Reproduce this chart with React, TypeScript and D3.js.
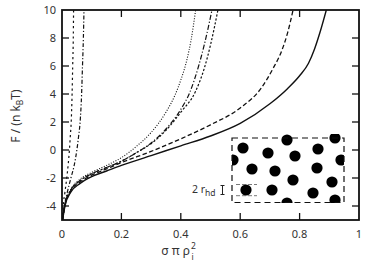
import React from "react";
import * as d3 from "d3";

// ---- data ----
const xTicks = [0, 0.2, 0.4, 0.6, 0.8, 1];
const xTickLabels = ["0", "0.2", "0.4", "0.6", "0.8", "1"];
const yTicks = [-4, -2, 0, 2, 4, 6, 8, 10];
const yTickLabels = ["-4", "-2", "0", "2", "4", "6", "8", "10"];

const solidEta = [0.002, 0.01, 0.03, 0.06, 0.1, 0.15, 0.2, 0.3, 0.4, 0.5, 0.6, 0.7, 0.76, 0.8, 0.83, 0.85, 0.87, 0.89];
const solidF = [-5, -4.0, -3.0, -2.4, -1.9, -1.5, -1.1, -0.4, 0.3, 1.0, 1.9, 3.3, 4.4, 5.3, 6.2, 7.2, 8.5, 10];

const dashEta = [0.002, 0.01, 0.03, 0.06, 0.1, 0.15, 0.2, 0.3, 0.4, 0.5, 0.6, 0.67, 0.71, 0.74, 0.76, 0.778];
const dashF = [-5, -3.9, -2.9, -2.3, -1.8, -1.35, -0.9, -0.1, 0.8, 1.8, 3.0, 4.4, 5.8, 7.1, 8.4, 10];

const dotEta = [0.002, 0.01, 0.03, 0.06, 0.1, 0.15, 0.2, 0.25, 0.3, 0.35, 0.38, 0.4, 0.42, 0.435, 0.45];
const dotF = [-5, -3.9, -2.8, -2.1, -1.6, -1.1, -0.55, 0.25, 1.25, 2.7, 3.9, 5.0, 6.4, 7.9, 10];

const dashDotEta = [0.002, 0.01, 0.03, 0.06, 0.1, 0.15, 0.2, 0.25, 0.3, 0.35, 0.4, 0.43, 0.46, 0.48, 0.505];
const dashDotF = [-5, -3.9, -2.85, -2.2, -1.7, -1.25, -0.8, -0.2, 0.5, 1.5, 2.9, 4.1, 6.0, 7.6, 10];

const shortDashEta = [0.002, 0.01, 0.03, 0.06, 0.1, 0.15, 0.2, 0.25, 0.3, 0.35, 0.4, 0.45, 0.48, 0.5, 0.525];
const shortDashF = [-5, -3.9, -2.85, -2.2, -1.7, -1.25, -0.8, -0.2, 0.45, 1.4, 2.7, 4.2, 5.9, 7.5, 10];

const steepAEta = [0.001, 0.004, 0.01, 0.016, 0.021, 0.025, 0.028, 0.031, 0.034, 0.036, 0.038, 0.039];
const steepAF = [-5, -4, -3, -2, -1, 0, 1, 2, 4, 6, 8, 10];

const steepBEta = [0.001, 0.008, 0.018, 0.03, 0.042, 0.05, 0.056, 0.061, 0.066, 0.069, 0.072, 0.074];
const steepBF = [-5, -4, -3, -2, -1, 0, 1, 2, 4, 6, 8, 10];

// inset particle centres (pixel positions inside the inset sketch)
const discX = [243, 268, 287, 295, 318, 335, 233, 341, 252, 275, 317, 293, 332, 246, 272, 313, 287, 335];
const discY = [148, 153, 140, 156, 149, 138, 160, 160, 169, 171, 168, 180, 182, 190, 190, 193, 203, 200];

const W = 374;
const H = 266;
const M = { left: 62, right: 359, top: 10, bottom: 220 };

export default function App() {
  const x = d3.scaleLinear().domain([0, 1]).range([M.left, M.right]);
  const y = d3.scaleLinear().domain([-5, 10]).range([M.bottom, M.top]);

  const mk = (xs: number[], ys: number[]) =>
    d3
      .line<number>()
      .x((_, i) => x(xs[i]))
      .y((_, i) => y(ys[i]))
      .curve(d3.curveMonotoneX)(xs) as string;

  const series = [
    { xs: solidEta, ys: solidF, dash: "none", w: 1.4 },
    { xs: dashEta, ys: dashF, dash: "4.5 2.5", w: 1.3 },
    { xs: dotEta, ys: dotF, dash: "1 1.6", w: 1.1 },
    { xs: dashDotEta, ys: dashDotF, dash: "5 2 1.2 2", w: 1.2 },
    { xs: shortDashEta, ys: shortDashF, dash: "2.2 1.8", w: 1.2 },
    { xs: steepAEta, ys: steepAF, dash: "2.2 3", w: 1.2 },
    { xs: steepBEta, ys: steepBF, dash: "4 2 1.2 2", w: 1.2 },
  ];

  const txt = "#333";
  const font = "'Noto Sans', 'Open Sans', sans-serif";

  return (
    <svg
      width={W}
      height={H}
      style={{ position: "absolute", left: 0, top: 0, background: "#fff" }}
      fontFamily={font}
    >
      <defs>
        <clipPath id="plotclip">
          <rect x={M.left} y={M.top} width={M.right - M.left} height={M.bottom - M.top} />
        </clipPath>
        <clipPath id="insetclip">
          <rect x={232} y={134} width={112} height={69} />
        </clipPath>
      </defs>

      {/* curves */}
      <g clipPath="url(#plotclip)" fill="none" stroke="#111">
        {series.map((s, i) => (
          <path key={i} d={mk(s.xs, s.ys)} strokeWidth={s.w} strokeDasharray={s.dash} />
        ))}
      </g>

      {/* inset */}
      <g>
        <g clipPath="url(#insetclip)">
          {discX.map((cx, i) => (
            <circle key={i} cx={cx} cy={discY[i]} r={5.6} fill="#000" />
          ))}
        </g>
        <rect x={232} y={138} width={112} height={64.5} fill="none" stroke="#111" strokeWidth={1.2} strokeDasharray="6 4" />
        <line x1={236} x2={257} y1={184.5} y2={184.5} stroke="#555" strokeWidth={0.8} strokeDasharray="4 2" />
        <line x1={236} x2={257} y1={195.7} y2={195.7} stroke="#555" strokeWidth={0.8} strokeDasharray="4 2" />
        <line x1={222.5} x2={222.5} y1={185.5} y2={194.5} stroke="#222" strokeWidth={1} />
        <line x1={220.5} x2={224.5} y1={185.5} y2={185.5} stroke="#222" strokeWidth={1} />
        <line x1={220.5} x2={224.5} y1={194.5} y2={194.5} stroke="#222" strokeWidth={1} />
        <text x={192} y={193} fontSize={10.5} fill={txt}>
          2 r<tspan fontSize={8.5} dy={2.5}>hd</tspan>
        </text>
      </g>

      {/* frame */}
      <rect
        x={M.left}
        y={M.top}
        width={M.right - M.left}
        height={M.bottom - M.top}
        fill="none"
        stroke="#111"
        strokeWidth={1.8}
      />

      {/* ticks */}
      <g stroke="#111" strokeWidth={1.3}>
        {xTicks.slice(1, -1).map((t) => (
          <g key={"x" + t}>
            <line x1={x(t)} x2={x(t)} y1={M.bottom} y2={M.bottom - 7} />
            <line x1={x(t)} x2={x(t)} y1={M.top} y2={M.top + 7} />
          </g>
        ))}
        {yTicks.slice(0, -1).map((t) => (
          <g key={"y" + t}>
            <line x1={M.left} x2={M.left + 7} y1={y(t)} y2={y(t)} />
            <line x1={M.right} x2={M.right - 7} y1={y(t)} y2={y(t)} />
          </g>
        ))}
      </g>

      {/* tick labels */}
      <g fontSize={11} fill={txt}>
        {xTicks.map((t, i) => (
          <text key={"xl" + t} x={x(t)} y={238} textAnchor="middle">
            {xTickLabels[i]}
          </text>
        ))}
        {yTicks.map((t, i) => (
          <text key={"yl" + t} x={M.left - 6} y={y(t) + 4} textAnchor="end">
            {yTickLabels[i]}
          </text>
        ))}
      </g>

      {/* axis titles */}
      <text x={190} y={255} fontSize={12} fill={txt} textAnchor="end">
        σ π ρ
      </text>
      <text x={191} y={249} fontSize={8.5} fill={txt}>
        2
      </text>
      <text x={191.5} y={260} fontSize={8.5} fill={txt}>
        i
      </text>
      <text
        transform="translate(20,116) rotate(-90)"
        fontSize={12}
        fill={txt}
        textAnchor="middle"
      >
        F / (n k<tspan fontSize={8.5} dy={3}>B</tspan>
        <tspan dy={-3}>T)</tspan>
      </text>
    </svg>
  );
}
